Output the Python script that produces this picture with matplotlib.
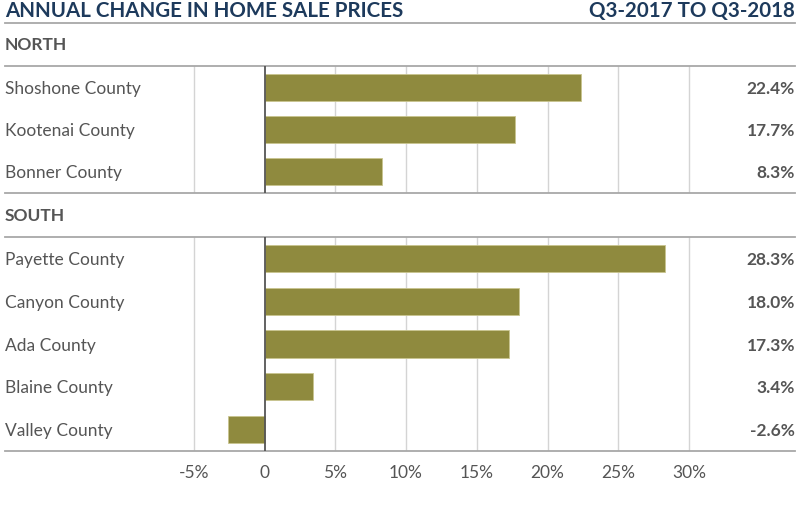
import matplotlib
matplotlib.use('Agg')
import matplotlib.pyplot as plt
from matplotlib.transforms import blended_transform_factory

plt.rcParams['font.family'] = ['Lato', 'DejaVu Sans']

north_names = ['Shoshone County', 'Kootenai County', 'Bonner County']
north_vals = [22.4, 17.7, 8.3]
south_names = ['Payette County', 'Canyon County', 'Ada County', 'Blaine County', 'Valley County']
south_vals = [28.3, 18.0, 17.3, 3.4, -2.6]
ticks = [-5, 0, 5, 10, 15, 20, 25, 30]
tick_labels = ['-5%', '0', '5%', '10%', '15%', '20%', '25%', '30%']

W, H = 800, 515
BAR = '#8f8a3e'
TXT = '#555555'
NAVY = '#1d3a5c'
X0, SCALE = 264.5, 14.15  # pixel of zero, pixels per percent
XMIN, XMAX = (0 - X0) / SCALE, (W - X0) / SCALE
LEFT, RIGHT = (5 - X0) / SCALE, (795 - X0) / SCALE

fig = plt.figure(figsize=(W / 100, H / 100), dpi=100)


def make_axes(top, bottom, names, vals, show_ticks):
    ax = fig.add_axes([0, 1 - bottom / H, 1, (bottom - top) / H])
    n = len(vals)
    ax.set_xlim(XMIN, XMAX)
    ax.set_ylim(n - 0.5, -0.5)
    for t in ticks:
        if t == 0:
            continue
        ax.axvline(t, color='#d4d4d4', lw=1, zorder=0)
    ax.barh(range(n), vals, height=0.64, color=BAR, edgecolor='#c9c58f',
            linewidth=0.6, zorder=2)
    ax.axvline(0, color='#555555', lw=1.3, zorder=3)
    tr = blended_transform_factory(ax.transAxes, ax.transData)
    for i, (nm, v) in enumerate(zip(names, vals)):
        ax.text(5 / W, i, nm, transform=tr, ha='left', va='center_baseline',
                fontsize=12.5, color=TXT)
        ax.text(795 / W, i, f'{v:.1f}%', transform=tr, ha='right', va='center_baseline',
                fontsize=12.5, color=TXT, fontweight='bold')
    for s in ['left', 'right']:
        ax.spines[s].set_visible(False)
    for s in ['top', 'bottom']:
        ax.spines[s].set_color('#a8a8a8')
        ax.spines[s].set_linewidth(1.3)
        ax.spines[s].set_bounds(LEFT, RIGHT)
    ax.set_yticks([])
    if show_ticks:
        ax.set_xticks(ticks)
        ax.set_xticklabels(tick_labels, fontsize=12.5, color=TXT)
        ax.tick_params(axis='x', length=0, pad=10)
    else:
        ax.set_xticks([])
    ax.patch.set_alpha(0)
    return ax


make_axes(66, 193, north_names, north_vals, False)
make_axes(237, 451, south_names, south_vals, True)

# title bar
fig.text(5 / W, 1 - 11 / H, 'ANNUAL CHANGE IN HOME SALE PRICES', ha='left', va='center',
         fontsize=14.8, color=NAVY, fontweight='bold')
fig.text(795 / W, 1 - 11 / H, 'Q3-2017 TO Q3-2018', ha='right', va='center',
         fontsize=14.8, color=NAVY, fontweight='bold')
fig.add_artist(plt.Line2D([5 / W, 795 / W], [1 - 23 / H, 1 - 23 / H], color='#a8a8a8', lw=1.3))

fig.text(5 / W, 1 - 45 / H, 'NORTH', ha='left', va='center', fontsize=12.5,
         color=TXT, fontweight='bold')
fig.text(5 / W, 1 - 216 / H, 'SOUTH', ha='left', va='center', fontsize=12.5,
         color=TXT, fontweight='bold')

fig.savefig('out.png', dpi=100, facecolor='white')
